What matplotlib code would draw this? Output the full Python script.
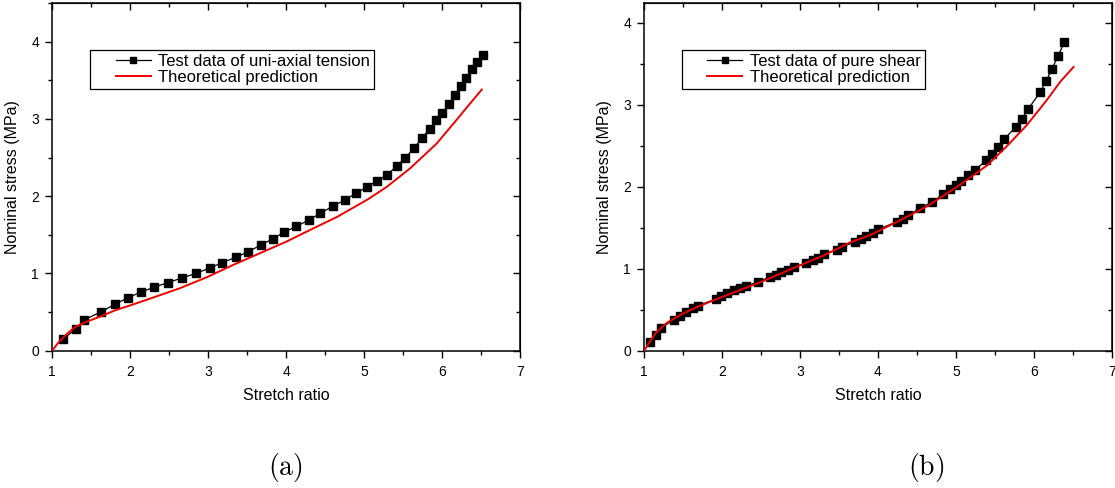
import matplotlib
matplotlib.use("Agg")
import matplotlib.pyplot as plt
from matplotlib.ticker import MultipleLocator
from matplotlib.legend_handler import HandlerLine2D

plt.rcParams['font.family'] = ['Liberation Sans', 'DejaVu Sans']
plt.rcParams['mathtext.fontset'] = 'cm'

# ---------------- data: (a) uni-axial tension ----------------
ua_test_x = [1.14, 1.30, 1.41, 1.62, 1.80, 1.97, 2.14, 2.30, 2.48, 2.66, 2.84, 3.02,
             3.18, 3.36, 3.51, 3.68, 3.83, 3.97, 4.13, 4.29, 4.44, 4.60, 4.75, 4.90,
             5.04, 5.17, 5.30, 5.42, 5.53, 5.64, 5.74, 5.84, 5.92, 6.00, 6.09, 6.16,
             6.24, 6.31, 6.38, 6.45, 6.52]
ua_test_y = [0.15, 0.28, 0.40, 0.50, 0.60, 0.685, 0.76, 0.82, 0.88, 0.94, 1.00, 1.07,
             1.14, 1.21, 1.28, 1.37, 1.45, 1.53, 1.61, 1.69, 1.78, 1.87, 1.95, 2.04,
             2.12, 2.20, 2.28, 2.39, 2.50, 2.62, 2.75, 2.87, 2.98, 3.08, 3.19, 3.31,
             3.42, 3.53, 3.64, 3.74, 3.83]
ua_theo_x = [1.00, 1.05, 1.10, 1.20, 1.30, 1.44, 1.61, 1.80, 2.04, 2.30, 2.64, 2.98,
             3.32, 3.66, 4.00, 4.22, 4.65, 5.05, 5.29, 5.59, 5.93, 6.18, 6.36, 6.51]
ua_theo_y = [0.00, 0.07, 0.13, 0.23, 0.31, 0.375, 0.44, 0.52, 0.60, 0.69, 0.81, 0.95,
             1.11, 1.26, 1.41, 1.52, 1.73, 1.96, 2.12, 2.36, 2.68, 2.98, 3.20, 3.38]

# ---------------- data: (b) pure shear ----------------
ps_test_x = [1.07, 1.15, 1.22, 1.38, 1.46, 1.54, 1.62, 1.69, 1.92, 1.98, 2.06, 2.15,
             2.23, 2.31, 2.46, 2.61, 2.69, 2.76, 2.84, 2.92, 3.08, 3.16, 3.23, 3.31,
             3.47, 3.54, 3.70, 3.78, 3.85, 3.93, 4.00, 4.24, 4.32, 4.39, 4.54, 4.69,
             4.84, 4.92, 5.00, 5.07, 5.16, 5.24, 5.39, 5.46, 5.54, 5.62, 5.77, 5.85,
             5.93, 6.08, 6.16, 6.23, 6.31, 6.39]
ps_test_y = [0.10, 0.19, 0.28, 0.38, 0.42, 0.47, 0.52, 0.55, 0.63, 0.67, 0.70, 0.74,
             0.77, 0.79, 0.84, 0.90, 0.92, 0.96, 0.99, 1.02, 1.07, 1.11, 1.13, 1.18,
             1.23, 1.27, 1.32, 1.36, 1.40, 1.44, 1.48, 1.57, 1.61, 1.65, 1.74, 1.81,
             1.91, 1.97, 2.02, 2.07, 2.14, 2.20, 2.32, 2.40, 2.49, 2.58, 2.73, 2.83,
             2.95, 3.15, 3.29, 3.43, 3.59, 3.76]
ps_theo_x = [1.00, 1.05, 1.10, 1.16, 1.29, 1.46, 1.67, 1.93, 2.23, 2.53, 2.87, 3.30,
             3.64, 3.90, 4.20, 4.63, 5.05, 5.40, 5.65, 5.91, 6.17, 6.34, 6.51]
ps_theo_y = [0.00, 0.08, 0.15, 0.23, 0.34, 0.435, 0.53, 0.63, 0.74, 0.85, 0.99, 1.16,
             1.32, 1.41, 1.55, 1.76, 2.02, 2.26, 2.49, 2.75, 3.06, 3.28, 3.46]

panels = [
    dict(tx=ua_test_x, ty=ua_test_y, mx=ua_theo_x, my=ua_theo_y,
         label="Test data of uni-axial tension", ymax=4.5,
         rect=[52.3, 350.7, 520.0, 3.0], cap="(a)", capx=285),
    dict(tx=ps_test_x, ty=ps_test_y, mx=ps_theo_x, my=ps_theo_y,
         label="Test data of pure shear", ymax=4.24,
         rect=[644.3, 350.7, 1111.7, 3.0], cap="(b)", capx=926),
]

W, H = 1115, 488
fig = plt.figure(figsize=(W / 100, H / 100), dpi=100)

for p in panels:
    x0, yb, x1, yt = p["rect"]
    ax = fig.add_axes([x0 / W, 1 - yb / H, (x1 - x0) / W, (yb - yt) / H])
    ax.plot(p["tx"], p["ty"], color="black", lw=0.9, marker="s", ms=5.4,
            mfc="black", mec="black", label=p["label"], zorder=3)
    ax.plot(p["mx"], p["my"], color="#ee0000", lw=1.4,
            label="Theoretical prediction", zorder=4)
    ax.set_xlim(1, 7)
    ax.set_ylim(0, p["ymax"])
    ax.xaxis.set_major_locator(MultipleLocator(1))
    ax.xaxis.set_minor_locator(MultipleLocator(0.5))
    ax.yaxis.set_major_locator(MultipleLocator(1))
    ax.yaxis.set_minor_locator(MultipleLocator(0.5))
    ax.tick_params(which="major", direction="out", length=5, width=1,
                   labelsize=10)
    ax.tick_params(axis="x", which="major", pad=5)
    ax.tick_params(axis="y", which="major", pad=4.5)
    ax.tick_params(which="minor", direction="out", length=3, width=1)
    for s in ax.spines.values():
        s.set_linewidth(1.1)
    # mirrored ticks pointing inward on top/right
    sx = ax.secondary_xaxis("top")
    sx.xaxis.set_major_locator(MultipleLocator(1))
    sx.xaxis.set_minor_locator(MultipleLocator(0.5))
    sx.tick_params(which="major", direction="in", length=5, width=1, labeltop=False)
    sx.tick_params(which="minor", direction="in", length=3, width=1)
    sy = ax.secondary_yaxis("right")
    sy.yaxis.set_major_locator(MultipleLocator(1))
    sy.yaxis.set_minor_locator(MultipleLocator(0.5))
    sy.tick_params(which="major", direction="in", length=5, width=1, labelright=False)
    sy.tick_params(which="minor", direction="in", length=3, width=1)

    ax.set_xlabel("Stretch ratio", fontsize=11.5, labelpad=7)
    ax.set_ylabel("Nominal stress (MPa)", fontsize=11.5, labelpad=8)

    leg = ax.legend(loc="upper left", bbox_to_anchor=(0.081, 0.865),
                    borderaxespad=0, fancybox=False, framealpha=1,
                    edgecolor="black", fontsize=12, handlelength=3.4,
                    handletextpad=0.45, borderpad=0.22, labelspacing=0.1,
                    handler_map={matplotlib.lines.Line2D: HandlerLine2D(xpad=1.3)})
    leg.get_frame().set_linewidth(0.9)
    for h in leg.legend_handles:
        h.set_markersize(4.5)

    fig.text(p["capx"] / W, 1 - 467 / H, r"$\mathrm{" + p["cap"] + "}$",
             ha="center", va="center", fontsize=20)

fig.savefig("out.png", dpi=100)
